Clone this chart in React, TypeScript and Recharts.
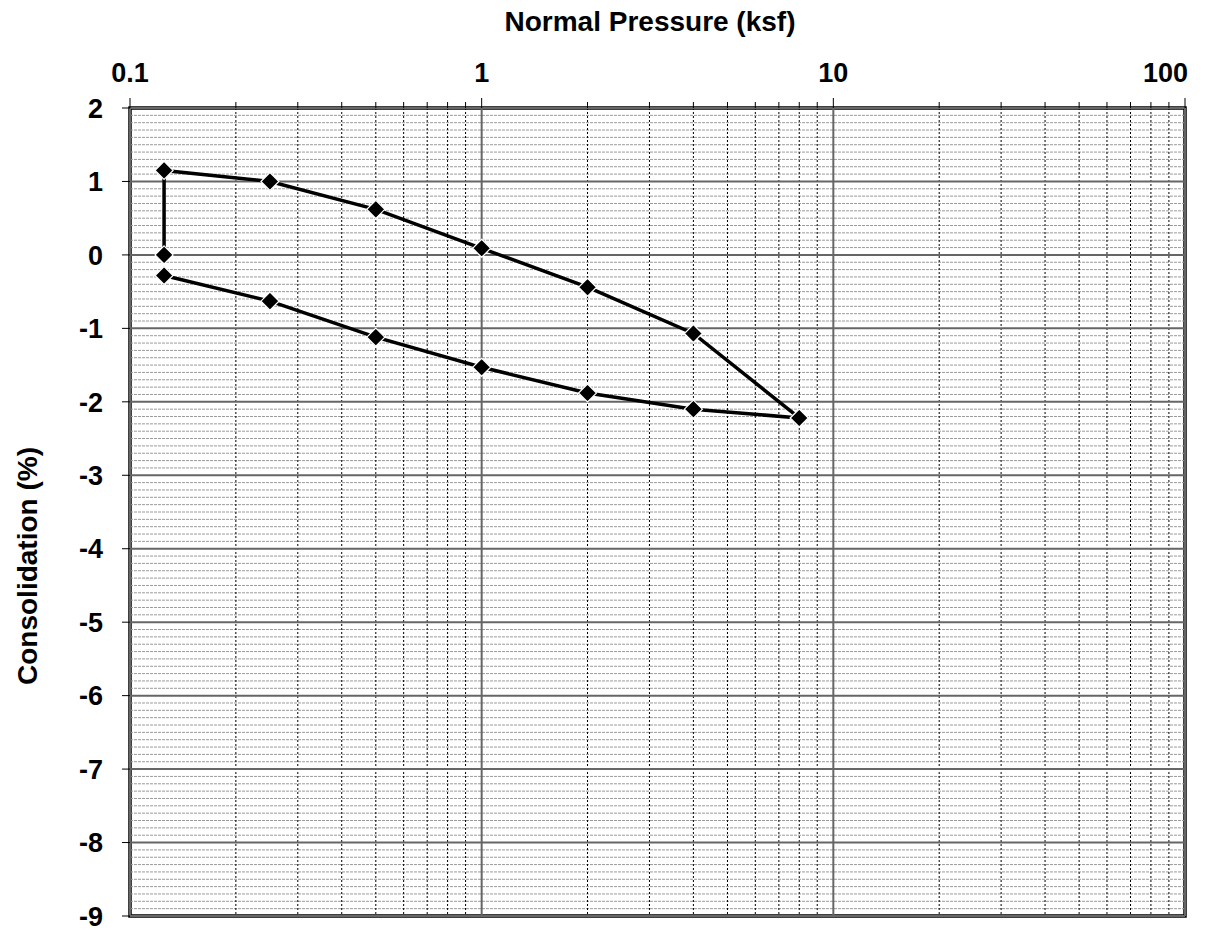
import React from 'react';
import { ComposedChart, Line, XAxis, YAxis, ReferenceLine, ReferenceArea, Label } from 'recharts';

// consolidation test: loading (after wetting at 0.125 ksf) and unloading
const loadPressure = [0.125, 0.125, 0.25, 0.5, 1, 2, 4, 8];
const loadStrain = [0, 1.15, 1.0, 0.62, 0.09, -0.44, -1.07, -2.22];
const unloadPressure = [8, 4, 2, 1, 0.5, 0.25, 0.125];
const unloadStrain = [-2.22, -2.1, -1.88, -1.53, -1.12, -0.63, -0.28];

const xMajor = [0.1, 1, 10, 100];
const xMinor = [0.2, 0.3, 0.4, 0.5, 0.6, 0.7, 0.8, 0.9, 2, 3, 4, 5, 6, 7, 8, 9, 20, 30, 40, 50, 60, 70, 80, 90];
const yMajor = [2, 1, 0, -1, -2, -3, -4, -5, -6, -7, -8, -9];
const yMinor: number[] = [];
for (let i = -90; i <= 20; i++) {
  if (i % 10 !== 0) yMinor.push(i / 10);
}

const loadData = loadPressure.map((p, i) => ({ p, c: loadStrain[i] }));
const unloadData = unloadPressure.map((p, i) => ({ p, c: unloadStrain[i] }));

const font = '"Liberation Sans", Arial, sans-serif';

const Diamond = (props: any) => {
  const { cx, cy } = props;
  if (cx == null || cy == null) return null;
  const r = 9;
  return (
    <polygon
      points={`${cx},${cy - r} ${cx + r},${cy} ${cx},${cy + r} ${cx - r},${cy}`}
      fill="#000"
      stroke="#fff"
      strokeWidth={1.2}
    />
  );
};

const XTick = (props: any) => {
  const { x, y, payload } = props;
  const major = xMajor.includes(payload.value);
  const last = payload.value === 100;
  return (
    <g>
      <line x1={x} x2={x} y1={y} y2={y - (major ? 10 : 6)} stroke="#000" strokeWidth={1} />
      {major && (
        <text
          x={last ? x + 3 : x}
          y={y - 26}
          textAnchor={last ? 'end' : 'middle'}
          fontFamily={font}
          fontWeight="bold"
          fontSize={27}
          fill="#000"
        >
          {payload.value}
        </text>
      )}
    </g>
  );
};

const YTick = (props: any) => {
  const { x, y, payload } = props;
  return (
    <g>
      <line x1={x - 8} x2={x} y1={y} y2={y} stroke="#000" strokeWidth={1} />
      <text x={x - 27} y={y} dy="0.36em" textAnchor="end" fontFamily={font} fontWeight="bold" fontSize={27} fill="#000">
        {payload.value}
      </text>
    </g>
  );
};

export default function App() {
  return (
    <div style={{ position: 'absolute', left: 0, top: 0, background: '#fff' }}>
      <ComposedChart width={1217} height={933} margin={{ top: 0, right: 32, bottom: 17, left: 0 }}>
        <XAxis
          dataKey="p"
          type="number"
          scale="log"
          domain={[0.1, 100]}
          allowDataOverflow
          orientation="top"
          height={108}
          ticks={[...xMajor, ...xMinor]}
          interval={0}
          tick={<XTick />}
          tickLine={false}
          axisLine={false}
          tickSize={0}
          tickMargin={0}
        >
          <Label
            content={() => (
              <text x={650} y={31} textAnchor="middle" fontFamily={font} fontWeight="bold" fontSize={28} fill="#000">
                Normal Pressure (ksf)
              </text>
            )}
          />
        </XAxis>
        <YAxis
          dataKey="c"
          type="number"
          domain={[-9, 2]}
          allowDataOverflow
          width={130}
          ticks={yMajor}
          interval={0}
          tick={<YTick />}
          tickLine={false}
          axisLine={false}
          tickSize={0}
          tickMargin={0}
        >
          <Label
            content={() => {
              const cx = 27;
              const cy = 566;
              return (
                <text
                  x={cx}
                  y={cy}
                  transform={`rotate(-90 ${cx} ${cy})`}
                  textAnchor="middle"
                  dy="0.36em"
                  fontFamily={font}
                  fontWeight="bold"
                  fontSize={28}
                  fill="#000"
                >
                  Consolidation (%)
                </text>
              );
            }}
          />
        </YAxis>
        {yMinor.map((v) => (
          <ReferenceLine key={'ym' + v} y={v} stroke="#9a9a9a" strokeWidth={1} strokeDasharray="3 1" />
        ))}
        {xMinor.map((v) => (
          <ReferenceLine key={'xm' + v} x={v} stroke="#000" strokeWidth={1} strokeDasharray="2 2" />
        ))}
        {yMajor.map((v) => (
          <ReferenceLine key={'yM' + v} y={v} stroke="#666" strokeWidth={2} />
        ))}
        {xMajor.map((v) => (
          <ReferenceLine key={'xM' + v} x={v} stroke="#666" strokeWidth={2} />
        ))}
        <Line
          data={loadData}
          dataKey="c"
          type="linear"
          stroke="#000"
          strokeWidth={3.5}
          dot={<Diamond />}
          activeDot={false}
          isAnimationActive={false}
        />
        <Line
          data={unloadData}
          dataKey="c"
          type="linear"
          stroke="#000"
          strokeWidth={3.5}
          dot={<Diamond />}
          activeDot={false}
          isAnimationActive={false}
        />
        <ReferenceArea x1={0.1} x2={100} y1={-9} y2={2} fill="none" stroke="#000" strokeWidth={3.5} ifOverflow="visible" />
      </ComposedChart>
    </div>
  );
}
